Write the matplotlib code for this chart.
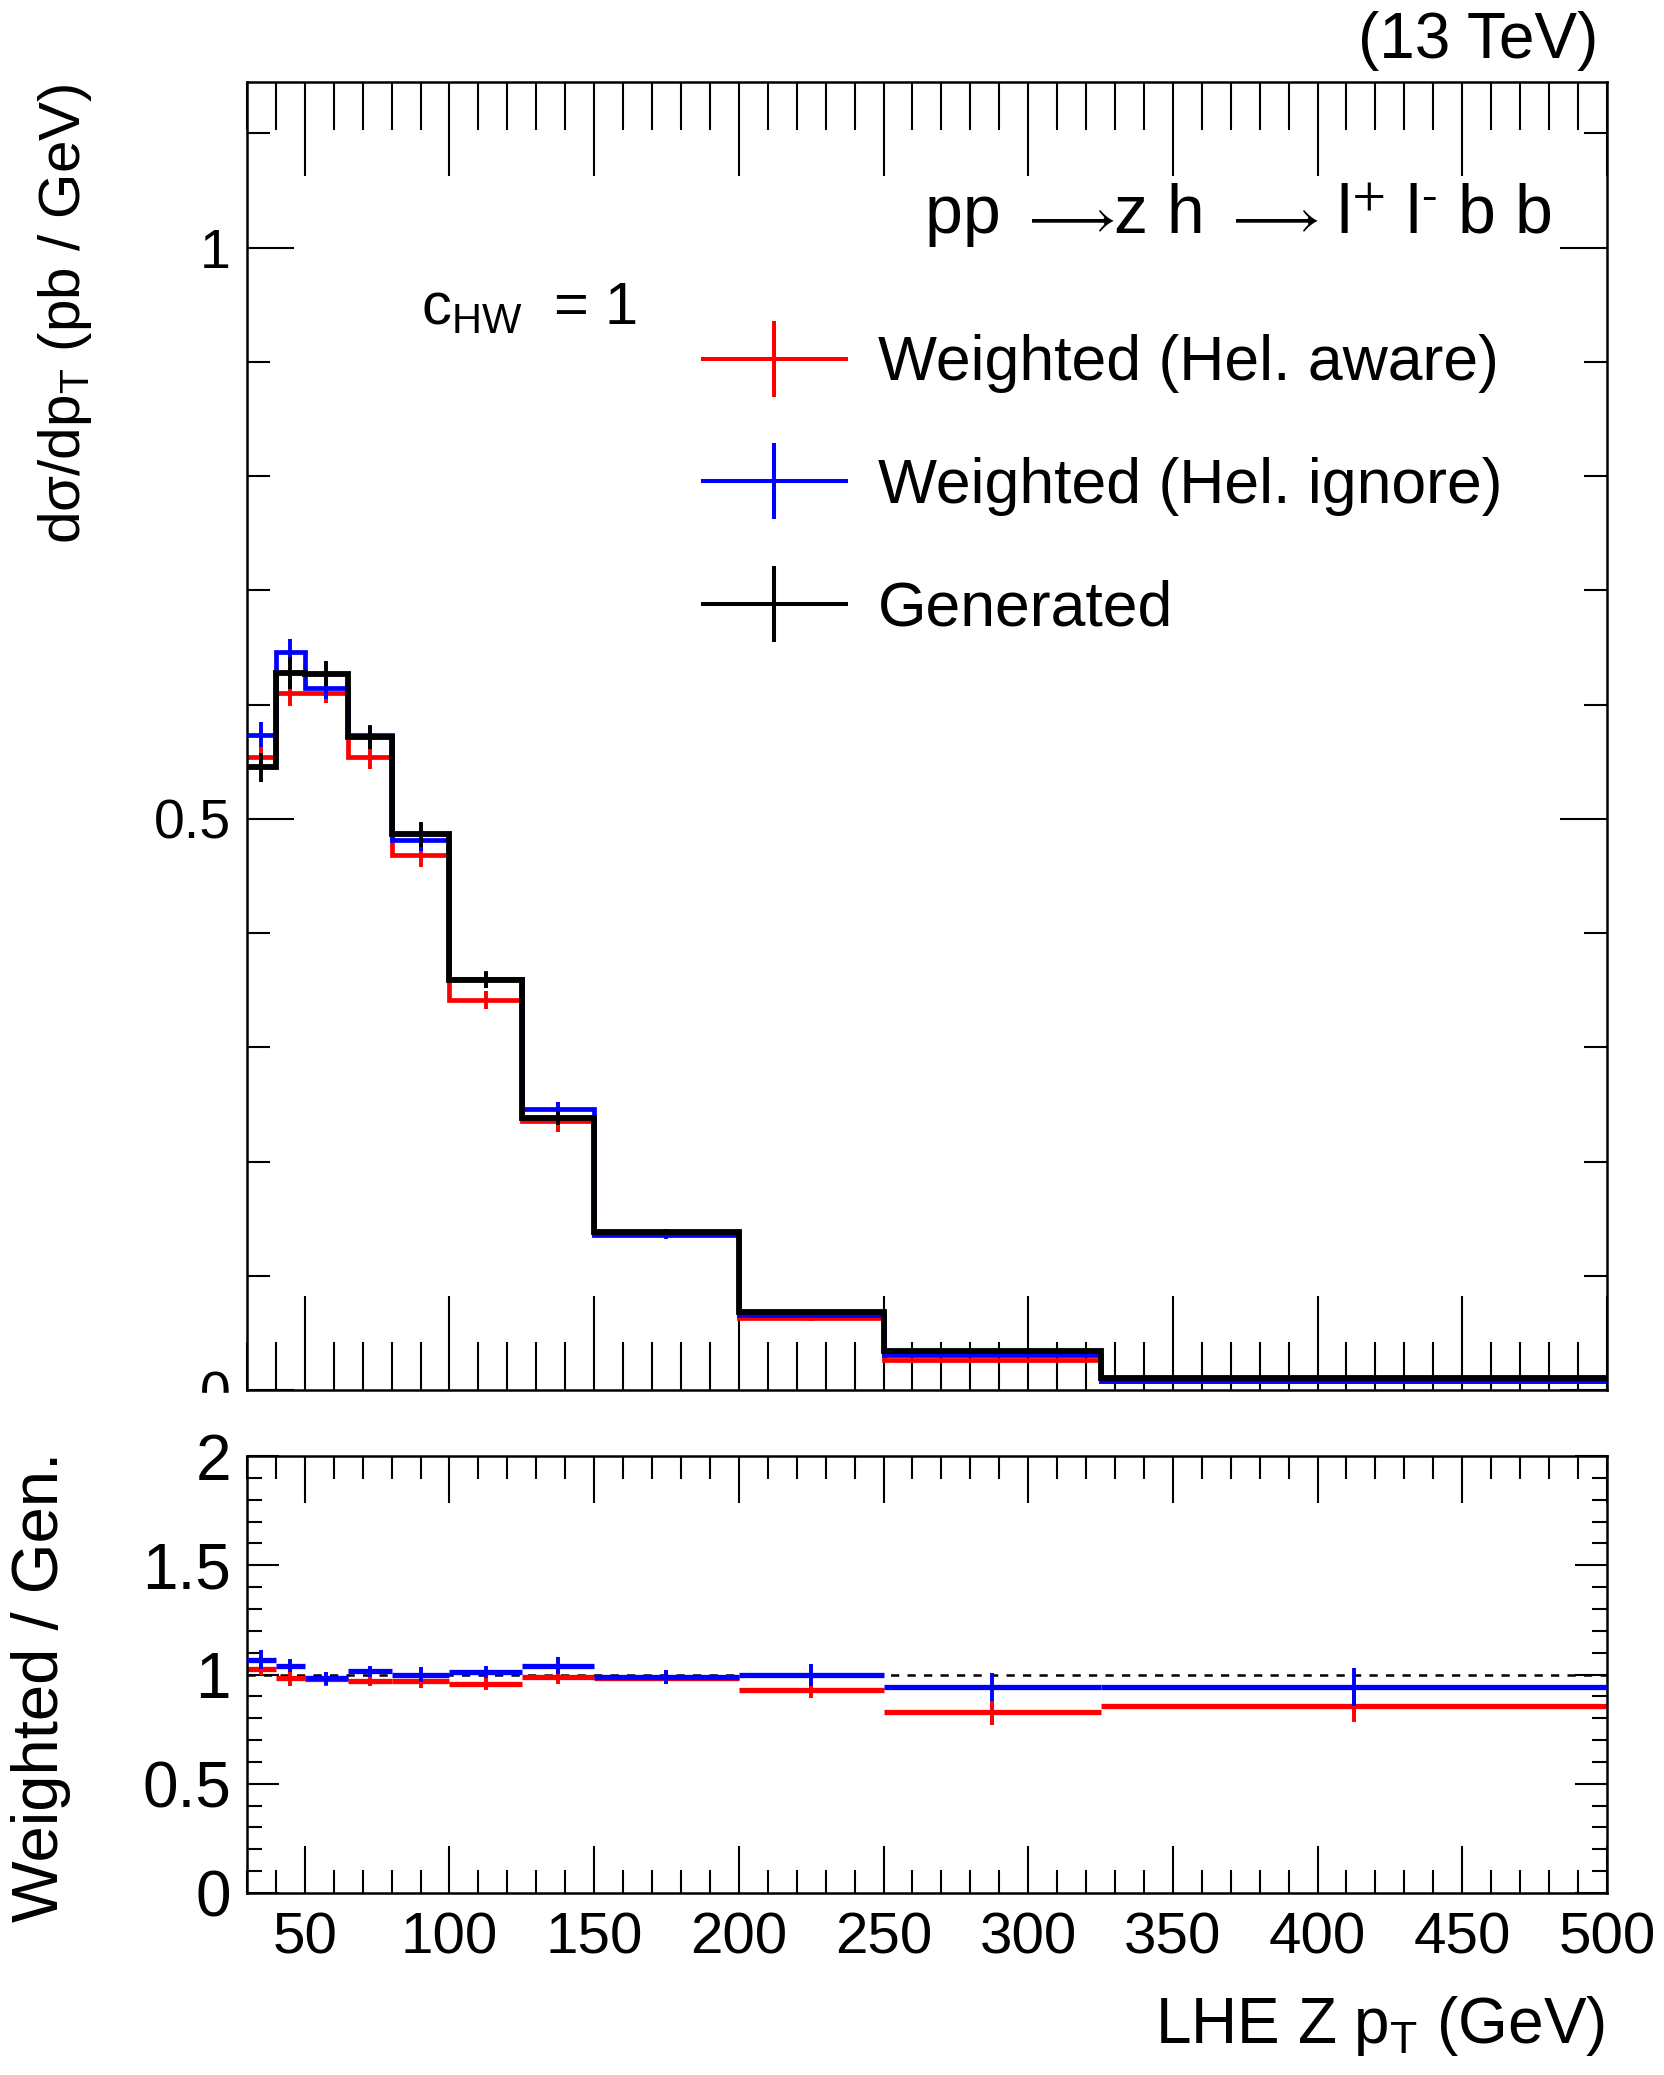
import numpy as np
import matplotlib
matplotlib.use('Agg')
import matplotlib.pyplot as plt
from matplotlib.ticker import MultipleLocator, FuncFormatter
from matplotlib.lines import Line2D
from matplotlib.patches import Rectangle
from matplotlib.offsetbox import TextArea, HPacker, AnchoredOffsetbox

plt.rcParams['font.family'] = ['Liberation Sans', 'DejaVu Sans']
plt.rcParams['mathtext.fontset'] = 'custom'
plt.rcParams['mathtext.rm'] = 'Liberation Sans'
plt.rcParams['mathtext.it'] = 'Liberation Sans:italic'
plt.rcParams['mathtext.bf'] = 'Liberation Sans:bold'
plt.rcParams['mathtext.default'] = 'rm'

# bins em pT (GeV)
pt_edges = [30, 40, 50, 65, 80, 100, 125, 150, 200, 250, 325, 500]

# dsigma/dpT (pb/GeV)
xs_generated = [0.545, 0.628, 0.627, 0.5715, 0.4866, 0.359, 0.238, 0.1384, 0.0684, 0.034, 0.0107]
xs_hel_aware = [0.5537, 0.6105, 0.6105, 0.554, 0.4685, 0.3416, 0.2352, 0.1365, 0.0632, 0.026, 0.0080]
xs_hel_ignore = [0.5735, 0.6464, 0.6143, 0.573, 0.4816, 0.360, 0.246, 0.1355, 0.0655, 0.031, 0.0083]

err_generated = [0.013, 0.014, 0.011, 0.010, 0.011, 0.007, 0.006, 0.003, 0.002, 0.001, 0.0005]
err_hel_aware = [0.011, 0.012, 0.009, 0.010, 0.011, 0.008, 0.009, 0.003, 0.003, 0.001, 0.0005]
err_hel_ignore = [0.011, 0.011, 0.009, 0.009, 0.010, 0.007, 0.006, 0.003, 0.002, 0.001, 0.0005]

# razao Weighted / Gen.
ratio_hel_aware = [1.026, 0.985, 0.978, 0.970, 0.970, 0.958, 0.987, 0.985, 0.931, 0.827, 0.855]
ratio_hel_ignore = [1.067, 1.040, 0.983, 1.014, 1.000, 1.010, 1.040, 0.988, 0.999, 0.944, 0.944]
ratio_err_aware = [0.028, 0.036, 0.030, 0.022, 0.030, 0.030, 0.030, 0.030, 0.040, 0.060, 0.070]
ratio_err_ignore = [0.043, 0.030, 0.030, 0.027, 0.033, 0.028, 0.039, 0.033, 0.050, 0.064, 0.086]

W, H = 1665, 2075


def fx(px):
    return px / W


def fy(py):
    return 1 - py / H


edges = np.array(pt_edges, dtype=float)
centers = 0.5 * (edges[1:] + edges[:-1])

fig = plt.figure(figsize=(W / 100, H / 100), dpi=100)
ax = fig.add_axes([0.1483, 0.3301, 0.8168, 0.6304])
ax2 = fig.add_axes([0.1483, 0.0877, 0.8168, 0.2106], sharex=ax)
ax2.set_zorder(2)

# painel de cima
series = [
    (xs_hel_aware, err_hel_aware, 'red', 3.4, 2),
    (xs_hel_ignore, err_hel_ignore, 'blue', 3.4, 3),
    (xs_generated, err_generated, 'black', 4.2, 4),
]
for vals, errs, col, lw, z in series:
    ax.stairs(vals, edges, baseline=None, color=col, lw=lw, zorder=z)
    ax.errorbar(centers, vals, yerr=errs, fmt='none', ecolor=col,
                elinewidth=2.8, capsize=0, zorder=z)

ax.set_xlim(30, 500)
ax.set_ylim(0, 1.145)

# painel da razao
ax2.axhline(1.0, color='black', lw=1.8, ls=(0, (3.3, 3.3)), zorder=1)
for vals, errs, col, z in [(ratio_hel_aware, ratio_err_aware, 'red', 2),
                           (ratio_hel_ignore, ratio_err_ignore, 'blue', 3)]:
    ax2.hlines(vals, edges[:-1], edges[1:], colors=col, lw=3.8, zorder=z)
    ax2.errorbar(centers, vals, yerr=errs, fmt='none', ecolor=col,
                 elinewidth=2.8, capsize=0, zorder=z)
ax2.set_ylim(0, 2)

fmt = FuncFormatter(lambda v, p: f'{v:g}')
for a in (ax, ax2):
    for s in a.spines.values():
        s.set_linewidth(1.8)
    a.xaxis.set_major_locator(MultipleLocator(50))
    a.xaxis.set_minor_locator(MultipleLocator(10))
    a.yaxis.set_major_formatter(fmt)
    a.tick_params(which='both', direction='in', top=True, bottom=True,
                  left=True, right=True, width=1.5)

ax.yaxis.set_major_locator(MultipleLocator(0.5))
ax.yaxis.set_minor_locator(MultipleLocator(0.1))
ax2.yaxis.set_major_locator(MultipleLocator(0.5))
ax2.yaxis.set_minor_locator(MultipleLocator(0.1))

ax.tick_params(axis='x', which='major', length=68)
ax.tick_params(axis='x', which='minor', length=34.6)
ax.tick_params(axis='x', labelbottom=False)
ax.tick_params(axis='y', which='major', length=34, labelsize=40, pad=11.5)
ax.tick_params(axis='y', which='minor', length=16.6)

ax2.tick_params(axis='x', which='major', length=34, labelsize=42, pad=13)
ax2.tick_params(axis='x', which='minor', length=16.6)
ax2.tick_params(axis='y', which='major', length=23, labelsize=46, pad=11.5)
ax2.tick_params(axis='y', which='minor', length=10.8)
ax2.xaxis.set_major_formatter(fmt)

# o "0" de cima fica cortado pelo pad de baixo
fig.add_artist(Rectangle((fx(90), fy(1433)), fx(150), 40 / H,
                         transform=fig.transFigure, color='white', zorder=1))

# legenda
handles = [Line2D([0], [0], color=c, lw=2.9, marker='|', markersize=55,
                  markeredgewidth=2.9) for c in ('red', 'blue', 'black')]
labels = ['Weighted (Hel. aware)', 'Weighted (Hel. ignore)', 'Generated']
ax.legend(handles, labels, loc='upper left', bbox_to_anchor=(0.335, 0.807),
          frameon=False, fontsize=45, handlelength=2.3, handletextpad=0.5,
          labelspacing=1.02, borderpad=0, borderaxespad=0, numpoints=1)

# processo: pp -> z h -> l+ l- b b (seta maior, como no ROOT)
txt = dict(fontsize=49)
seta = dict(fontsize=40, math_fontfamily='stixsans')
fim = dict(fontsize=49, math_fontfamily='stixsans')
partes = [TextArea('pp ', textprops=txt),
          TextArea(r'$\longrightarrow$', textprops=seta),
          TextArea('z h ', textprops=txt),
          TextArea(r'$\longrightarrow$', textprops=seta),
          TextArea(' l$^{+}$ l$^{\u2010}$ b b', textprops=fim)]
caixa = HPacker(children=partes, align='baseline', pad=0, sep=0)
fig.add_artist(AnchoredOffsetbox(loc='lower left', child=caixa, pad=0,
                                 borderpad=0, frameon=False,
                                 bbox_to_anchor=(fx(925), fy(247)),
                                 bbox_transform=fig.transFigure))

# textos
fig.text(fx(1598), fy(41), '(13 TeV)', ha='right', va='center', fontsize=46)
fig.text(fx(421), fy(325), r'c$_{\mathrm{HW}}\;$ = 1', ha='left',
         va='baseline', fontsize=43)
fig.text(fx(65), fy(84), r'dσ/dp$_{\mathrm{T}}$ (pb / GeV)', rotation=90,
         ha='center', va='top', fontsize=42)
fig.text(fx(41), fy(1452), 'Weighted / Gen.', rotation=90,
         ha='center', va='top', fontsize=47)
fig.text(fx(1605), fy(2043), r'LHE Z p$_{\mathrm{T}}$ (GeV)', ha='right',
         va='baseline', fontsize=46)

fig.savefig('out.png', dpi=100)
